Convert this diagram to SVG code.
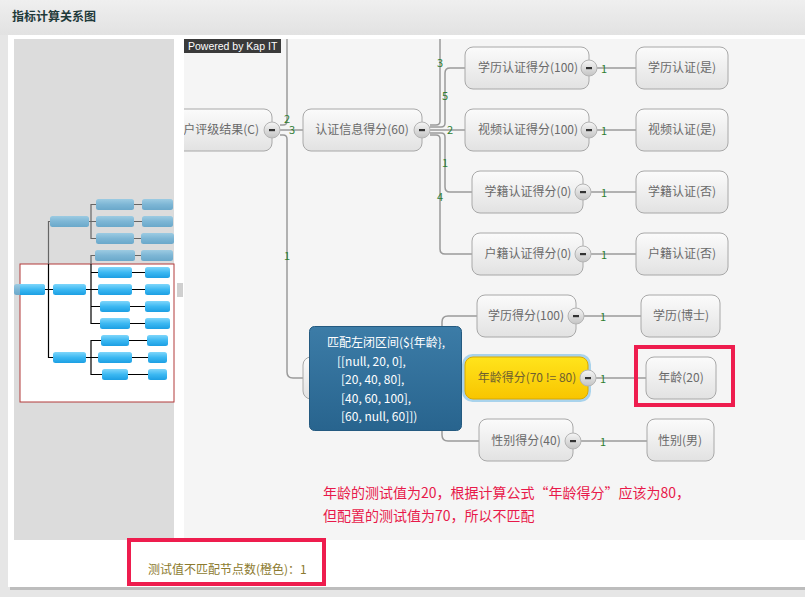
<svg xmlns="http://www.w3.org/2000/svg" width="805" height="597" viewBox="0 0 805 597">
<defs>
<linearGradient id="hdr" x1="0" y1="0" x2="0" y2="1"><stop offset="0" stop-color="#efefef"/><stop offset="1" stop-color="#e2e2e2"/></linearGradient>
<linearGradient id="ng" x1="0" y1="0" x2="0" y2="1"><stop offset="0" stop-color="#fbfbfb"/><stop offset="1" stop-color="#e2e2e2"/></linearGradient>
<linearGradient id="yg" x1="0" y1="0" x2="0" y2="1"><stop offset="0" stop-color="#ffe41c"/><stop offset="1" stop-color="#f8c500"/></linearGradient>
<linearGradient id="bg" x1="0" y1="0" x2="0" y2="1"><stop offset="0" stop-color="#f6f6f6"/><stop offset="1" stop-color="#c4c4c4"/></linearGradient>
<linearGradient id="tg" x1="0" y1="0" x2="0" y2="1"><stop offset="0" stop-color="#3c7ca7"/><stop offset="1" stop-color="#28648e"/></linearGradient>
<linearGradient id="mb" x1="0" y1="0" x2="0" y2="1"><stop offset="0" stop-color="#7ed6fb"/><stop offset="0.5" stop-color="#3cb8f2"/><stop offset="1" stop-color="#1c9fe3"/></linearGradient>
<linearGradient id="mf" x1="0" y1="0" x2="0" y2="1"><stop offset="0" stop-color="#9ccbe2"/><stop offset="0.5" stop-color="#7db6d5"/><stop offset="1" stop-color="#6aa8ca"/></linearGradient>
<clipPath id="canvas"><rect x="184" y="39" width="621" height="501"/></clipPath>
<clipPath id="redr"><rect x="20" y="264" width="154" height="138"/></clipPath>
</defs>
<style>
.node{fill:url(#ng);stroke:#a8a8a8;stroke-width:1}
.yel{fill:url(#yg);stroke:#d9a900;stroke-width:1}
.t{font-family:"Noto Sans CJK SC","Noto Sans",sans-serif;font-size:12px;fill:#6a6a6a}
.btn{fill:url(#bg);stroke:#b4b4b4;stroke-width:1}
.minus{fill:#333}
.e{fill:none;stroke:#9a9a9a;stroke-width:1.5}
.lbl{font-family:"Noto Sans CJK SC","Noto Sans",sans-serif;font-size:11px;fill:#2e7d32;text-anchor:middle}
.mb{fill:url(#mb)}
.mf{fill:url(#mf)}
.ml{fill:none;stroke:#000;stroke-width:1.2}
.mlf{fill:none;stroke:#666;stroke-width:1.2}
.red{font-family:"Noto Sans CJK SC",sans-serif;font-size:14px;fill:#e8194a}
.tip{font-family:"Noto Sans CJK SC","Noto Sans",sans-serif;font-size:12px;fill:#ffffff}
</style>
<rect x="0" y="0" width="805" height="597" fill="#e6e6e6"/>
<rect x="0" y="0" width="805" height="35" fill="url(#hdr)"/>
<text x="12" y="21" font-family="Noto Sans CJK SC,sans-serif" font-size="12" font-weight="bold" fill="#1e3a3a">指标计算关系图</text>
<rect x="10" y="587" width="795" height="3" fill="#bdbdbd"/>
<rect x="8" y="35" width="797" height="552" fill="#ffffff"/>
<rect x="14" y="39" width="160" height="501" fill="#dcdcdc"/>
<rect x="184" y="39" width="621" height="501" fill="#f5f5f5"/>

<g id="overview">
<rect x="20" y="264" width="154" height="138" fill="#ffffff" stroke="#b23a3a" stroke-width="1"/>
<path class="mlf" d="M50,221.5 H48.5 V264"/>
<path class="ml" d="M48.5,264 V357.5 H53 M45,289.5 H53"/>
<path class="mlf" d="M89,221.5 H91 M96,204.5 H91 V238.5 H96 M91,221.5 H96 M95,255.5 H91 V264"/>
<path class="ml" d="M91,264 V323.5 H100 M86,289.5 H98 M91,272.5 H98 M91,306.5 H100"/>
<path class="ml" d="M86,357.5 H98 M101,340.5 H91 V374.5 H102"/>
<path class="mlf" d="M134,204.5 H142 M134,221.5 H142 M134,238.5 H141 M135,255.5 H141"/>
<path class="ml" d="M132,272.5 H145 M132,289.5 H145 M130,306.5 H145 M130,323.5 H145 M129,340.5 H147 M132,357.5 H148 M128,374.5 H148"/>
<rect class="mf" x="50" y="216" width="39" height="11" rx="2.5"/>
<rect class="mf" x="96" y="199" width="38" height="11" rx="2.5"/>
<rect class="mf" x="142" y="199" width="31" height="11" rx="2.5"/>
<rect class="mf" x="96" y="216" width="38" height="11" rx="2.5"/>
<rect class="mf" x="142" y="216" width="31" height="11" rx="2.5"/>
<rect class="mf" x="96" y="233" width="38" height="11" rx="2.5"/>
<rect class="mf" x="141" y="233" width="33" height="11" rx="2.5"/>
<rect class="mf" x="95" y="250" width="40" height="11" rx="2.5"/>
<rect class="mf" x="141" y="250" width="32" height="11" rx="2.5"/>
<rect class="mf" x="14" y="284" width="31" height="11" rx="2.5"/>
<rect class="mb" x="14" y="284" width="31" height="11" rx="2.5" clip-path="url(#redr)"/>
<rect class="mb" x="53" y="284" width="33" height="11" rx="2.5"/>
<rect class="mb" x="98" y="267" width="34" height="11" rx="2.5"/>
<rect class="mb" x="145" y="267" width="25" height="11" rx="2.5"/>
<rect class="mb" x="98" y="284" width="34" height="11" rx="2.5"/>
<rect class="mb" x="145" y="284" width="25" height="11" rx="2.5"/>
<rect class="mb" x="100" y="301" width="30" height="11" rx="2.5"/>
<rect class="mb" x="145" y="301" width="25" height="11" rx="2.5"/>
<rect class="mb" x="100" y="318" width="30" height="11" rx="2.5"/>
<rect class="mb" x="145" y="318" width="25" height="11" rx="2.5"/>
<rect class="mb" x="53" y="352" width="33" height="11" rx="2.5"/>
<rect class="mb" x="101" y="335" width="28" height="11" rx="2.5"/>
<rect class="mb" x="147" y="335" width="21" height="11" rx="2.5"/>
<rect class="mb" x="98" y="352" width="34" height="11" rx="2.5"/>
<rect class="mb" x="148" y="352" width="19" height="11" rx="2.5"/>
<rect class="mb" x="102" y="369" width="26" height="11" rx="2.5"/>
<rect class="mb" x="148" y="369" width="19" height="11" rx="2.5"/>
<path d="M178,283 V297 M180,283 V297 M182,283 V297" stroke="#a0a0a0" stroke-width="1"/>
</g>

<g id="connectors" clip-path="url(#canvas)">
<path class="e" d="M280,125 H283 Q287,125 287,121 V39"/>
<path class="e" d="M280,130 H303"/>
<path class="e" d="M280,135 H283 Q287,135 287,139 V372 Q287,378 293,378 H303"/>
<path class="e" d="M430,125 H436 Q440,125 440,121 V39"/>
<path class="e" d="M430,127 H441 Q445,127 445,123 V73 Q445,68 450,68 H465"/>
<path class="e" d="M430,130 H465"/>
<path class="e" d="M430,133 H441 Q445,133 445,137 V187 Q445,192 450,192 H472"/>
<path class="e" d="M430,135 H436 Q440,135 440,139 V249 Q440,254 445,254 H472"/>
<path class="e" d="M597,68 H636"/>
<path class="e" d="M597,130 H636"/>
<path class="e" d="M591,192 H636"/>
<path class="e" d="M591,254 H636"/>
<path class="e" d="M442,372 V322 Q442,316 448,316 H477"/>
<path class="e" d="M442,378 H465"/>
<path class="e" d="M442,384 V435 Q442,441 448,441 H479"/>
<path class="e" d="M584,316 H641"/>
<path class="e" d="M596,378 H646"/>
<path class="e" d="M581,441 H647"/>
<text class="lbl" x="287" y="123">2</text>
<text class="lbl" x="292" y="134">3</text>
<text class="lbl" x="287" y="260">1</text>
<text class="lbl" x="440" y="67">3</text>
<text class="lbl" x="445" y="100">5</text>
<text class="lbl" x="450" y="134">2</text>
<text class="lbl" x="445" y="167">1</text>
<text class="lbl" x="440" y="201">4</text>
<text class="lbl" x="604" y="73">1</text>
<text class="lbl" x="604" y="135">1</text>
<text class="lbl" x="604" y="197">1</text>
<text class="lbl" x="604" y="259">1</text>
<text class="lbl" x="603" y="321">1</text>
<text class="lbl" x="603" y="383">1</text>
<text class="lbl" x="603" y="446">1</text>
</g>

<g id="n1" clip-path="url(#canvas)">
<rect class="node" x="150" y="109" width="122" height="42" rx="8"/>
<text class="t" x="259" y="134" text-anchor="end">户评级结果(C)</text>
<circle class="btn" cx="272" cy="130" r="8"/><rect class="minus" x="269" y="129" width="6" height="2.2"/>
</g>
<g id="n2">
<rect class="node" x="303" y="109" width="119" height="42" rx="8"/>
<text class="t" x="362" y="134" text-anchor="middle">认证信息得分(60)</text>
<circle class="btn" cx="422" cy="130" r="8"/><rect class="minus" x="419" y="129" width="6" height="2.2"/>
</g>
<g id="n3">
<rect class="node" x="465" y="47" width="124" height="42" rx="8"/>
<text class="t" x="528" y="72" text-anchor="middle">学历认证得分(100)</text>
<circle class="btn" cx="589" cy="68" r="8"/><rect class="minus" x="586" y="67" width="6" height="2.2"/>
</g>
<g id="n4">
<rect class="node" x="636" y="47" width="92" height="42" rx="8"/>
<text class="t" x="682" y="72" text-anchor="middle">学历认证(是)</text>
</g>
<g id="n5">
<rect class="node" x="465" y="109" width="124" height="42" rx="8"/>
<text class="t" x="528" y="134" text-anchor="middle">视频认证得分(100)</text>
<circle class="btn" cx="589" cy="130" r="8"/><rect class="minus" x="586" y="129" width="6" height="2.2"/>
</g>
<g id="n6">
<rect class="node" x="636" y="109" width="92" height="42" rx="8"/>
<text class="t" x="682" y="134" text-anchor="middle">视频认证(是)</text>
</g>
<g id="n7">
<rect class="node" x="472" y="171" width="111" height="42" rx="8"/>
<text class="t" x="528" y="196" text-anchor="middle">学籍认证得分(0)</text>
<circle class="btn" cx="583" cy="192" r="8"/><rect class="minus" x="580" y="191" width="6" height="2.2"/>
</g>
<g id="n8">
<rect class="node" x="636" y="171" width="92" height="42" rx="8"/>
<text class="t" x="682" y="196" text-anchor="middle">学籍认证(否)</text>
</g>
<g id="n9">
<rect class="node" x="472" y="233" width="111" height="42" rx="8"/>
<text class="t" x="528" y="258" text-anchor="middle">户籍认证得分(0)</text>
<circle class="btn" cx="583" cy="254" r="8"/><rect class="minus" x="580" y="253" width="6" height="2.2"/>
</g>
<g id="n10">
<rect class="node" x="636" y="233" width="92" height="42" rx="8"/>
<text class="t" x="682" y="258" text-anchor="middle">户籍认证(否)</text>
</g>
<g id="n11">
<rect class="node" x="477" y="295" width="99" height="42" rx="8"/>
<text class="t" x="526" y="320" text-anchor="middle">学历得分(100)</text>
<circle class="btn" cx="576" cy="316" r="8"/><rect class="minus" x="573" y="315" width="6" height="2.2"/>
</g>
<g id="n12">
<rect class="node" x="641" y="295" width="79" height="42" rx="8"/>
<text class="t" x="681" y="320" text-anchor="middle">学历(博士)</text>
</g>
<g id="n13">
<rect class="node" x="303" y="357" width="140" height="42" rx="8"/>
</g>
<g id="n14">
<rect x="463.5" y="355.5" width="126" height="45" rx="9" fill="none" stroke="#a9d3ec" stroke-width="3"/>
<rect class="yel" x="465" y="357" width="123" height="42" rx="8"/>
<text class="t" x="527" y="382" text-anchor="middle" fill="#6a5a20" style="fill:#6e6030">年龄得分(70 != 80)</text>
<circle class="btn" cx="588" cy="378" r="8"/><rect class="minus" x="585" y="377" width="6" height="2.2"/>
</g>
<g id="n15">
<rect class="node" x="646" y="357" width="70" height="42" rx="8"/>
<text class="t" x="681" y="382" text-anchor="middle">年龄(20)</text>
</g>
<g id="n16">
<rect class="node" x="479" y="419" width="94" height="42" rx="8"/>
<text class="t" x="526" y="445" text-anchor="middle">性别得分(40)</text>
<circle class="btn" cx="573" cy="441" r="8"/><rect class="minus" x="570" y="440" width="6" height="2.2"/>
</g>
<g id="n17">
<rect class="node" x="647" y="419" width="67" height="42" rx="8"/>
<text class="t" x="680" y="445" text-anchor="middle">性别(男)</text>
</g>

<g id="tooltip">
<rect x="309.5" y="326.5" width="152" height="104" rx="5" fill="url(#tg)" stroke="#245a80" stroke-width="1"/>
<text class="tip" x="327" y="347">匹配左闭区间(${年龄},</text>
<text class="tip" x="337" y="366">[[null, 20, 0],</text>
<text class="tip" x="341" y="384">[20, 40, 80],</text>
<text class="tip" x="341" y="403">[40, 60, 100],</text>
<text class="tip" x="341" y="421">[60, null, 60]])</text>
</g>

<g id="powered">
<rect x="184" y="39" width="97" height="14" fill="#3a3a3a"/>
<text x="188" y="50" font-family="Liberation Sans,Arial,sans-serif" font-size="10.5" fill="#ffffff">Powered by Kap IT</text>
</g>

<rect x="636" y="347" width="97" height="58" fill="none" stroke="#ee1d4e" stroke-width="4"/>
<text class="red" x="323" y="498">年龄的测试值为20，根据计算公式“年龄得分”应该为80，</text>
<text class="red" x="323" y="521">但配置的测试值为70，所以不匹配</text>

<rect x="129" y="540" width="195" height="44" fill="none" stroke="#ee1d4e" stroke-width="4"/>
<text x="148" y="574" font-family="Noto Sans CJK SC,sans-serif" font-size="12" fill="#8c7a2e">测试值不匹配节点数(橙色)：1</text>
</svg>
